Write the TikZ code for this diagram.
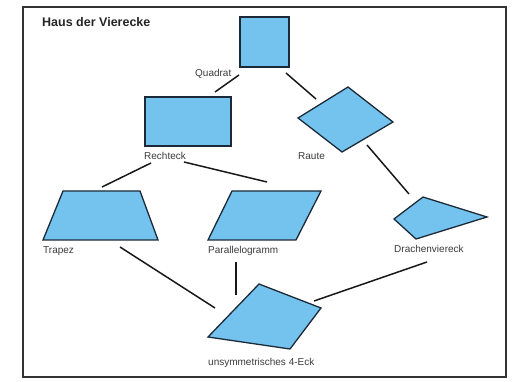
\documentclass[tikz,border=0pt]{standalone}
\usepackage{fontspec}
\setmainfont{Liberation Sans}
\usepackage{tikz}
\usetikzlibrary{positioning}

\definecolor{quadfill}{HTML}{74C2EE}
\definecolor{quadedge}{HTML}{1C2A38}
\definecolor{labelgray}{HTML}{3A3A3A}

\tikzset{
  viereck/.style={fill=quadfill, draw=quadedge, line width=1.3pt, line join=miter},
  verbindung/.style={draw=black!90, line width=1.5pt},
  beschriftung/.style={anchor=base west, inner sep=0pt, text=labelgray, font=\fontsize{10}{12}\selectfont}
}

\begin{document}
\begin{tikzpicture}[x=1pt, y=-1pt]
    \useasboundingbox (0,0) rectangle (517,382);
    \draw[line width=1.4pt, draw=black!80] (23,7) rectangle (506,377);
    \node[anchor=base west, inner sep=0pt, text=black!85, font=\bfseries\fontsize{12.5}{14}\selectfont] (titel) at (42,27) {Haus der Vierecke};

    % die Vierecke
    \draw[viereck] (240,17) rectangle (289,67);
    \draw[viereck] (145,97) rectangle (231,146);
    \draw[viereck] (298,118) -- (348,87) -- (393,122) -- (342,152) -- cycle;
    \draw[viereck] (394,219) -- (423,197) -- (487,217) -- (416,239) -- cycle;
    \draw[viereck] (43,240) -- (63,191) -- (140,191) -- (158,240) -- cycle;
    \draw[viereck] (208,240) -- (232,191) -- (321,191) -- (296,240) -- cycle;
    \draw[viereck] (208,337) -- (259,284) -- (321,308) -- (290,349) -- cycle;

    % Beschriftungen
    \node[beschriftung] (quadrat) at (195,77) {Quadrat};
    \node[beschriftung] (rechteck) at (144,160) {Rechteck};
    \node[beschriftung] (raute) at (298,160) {Raute};
    \node[beschriftung] (trapez) at (43,254) {Trapez};
    \node[beschriftung] (parallelogramm) at (208,254) {Parallelogramm};
    \node[beschriftung] (drachen) at (394,253) {Drachenviereck};
    \node[beschriftung] (unsym) at (208,365) {unsymmetrisches 4-Eck};

    % Enden der Verbindungen
    \coordinate (q1) at (239,75);   \coordinate (r1) at (215,92);
    \coordinate (q2) at (286,73);   \coordinate (ra1) at (316,99);
    \coordinate (r2) at (151,163);  \coordinate (t1) at (102,187);
    \coordinate (r3) at (184,162);  \coordinate (p1) at (267,182);
    \coordinate (ra2) at (367,145); \coordinate (d1) at (409,194);
    \coordinate (t2) at (120,247);  \coordinate (u1) at (215,308);
    \coordinate (p2) at (236,262);  \coordinate (u2) at (236,295);
    \coordinate (d2) at (427,262);  \coordinate (u3) at (314,301);

    \draw[verbindung] (q1) -- (r1);
    \draw[verbindung] (q2) -- (ra1);
    \draw[verbindung] (r2) -- (t1);
    \draw[verbindung] (r3) -- (p1);
    \draw[verbindung] (ra2) -- (d1);
    \draw[verbindung] (t2) -- (u1);
    \draw[verbindung] (p2) -- (u2);
    \draw[verbindung] (d2) -- (u3);
\end{tikzpicture}
\end{document}
